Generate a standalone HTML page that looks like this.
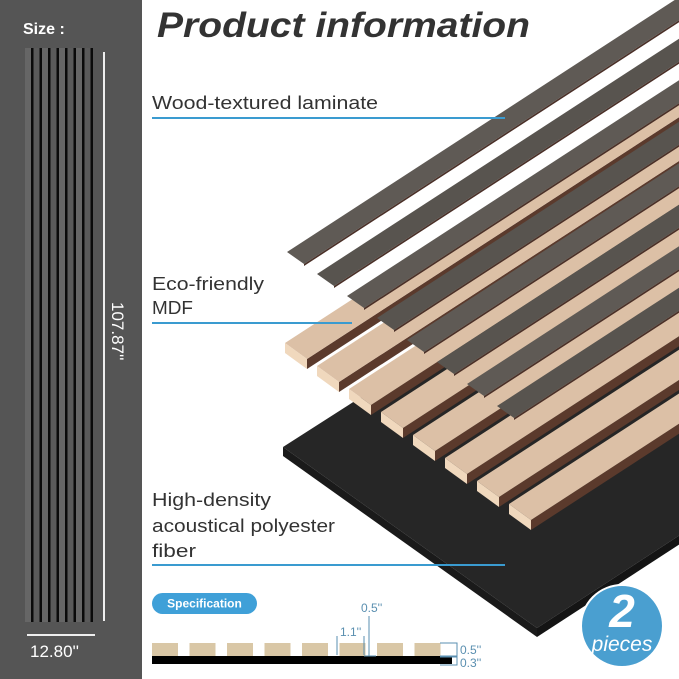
<!DOCTYPE html>
<html><head><meta charset="utf-8"><style>
html,body{margin:0;padding:0;background:#fff;}
svg{display:block}
text{font-family:"Liberation Sans","DejaVu Sans",sans-serif}
</style></head><body>
<svg id="s" width="679" height="679" viewBox="0 0 679 679" xmlns="http://www.w3.org/2000/svg">
<rect x="0" y="0" width="679" height="679" fill="#fff"/>
<rect x="0" y="0" width="142" height="679" fill="#555"/>
<text x="23" y="34" fill="#fff" font-size="16" font-weight="bold">Size :</text>
<defs>
<linearGradient id="gs" x1="0" x2="1" y1="0" y2="0">
<stop offset="0" stop-color="#6a6a6a"/><stop offset="1" stop-color="#3e3e3e"/>
</linearGradient>
</defs>
<g id="panel"></g>
<line x1="104" y1="52" x2="104" y2="621" stroke="#eee" stroke-width="2"/>
<line x1="27" y1="635" x2="95" y2="635" stroke="#eee" stroke-width="2"/>
<text x="30" y="657" fill="#fff" font-size="17">12.80''</text>
<text transform="translate(112,302) rotate(90)" fill="#fff" font-size="17">107.87''</text>

<g id="art"></g>

<text x="157" y="37" fill="#333" font-size="35" font-weight="bold" font-style="italic" textLength="373" lengthAdjust="spacingAndGlyphs">Product information</text>
<text x="152" y="109" fill="#333" font-size="18" textLength="226" lengthAdjust="spacingAndGlyphs">Wood-textured laminate</text>
<line x1="152" y1="118" x2="505" y2="118" stroke="#3a9bd0" stroke-width="2"/>
<text x="152" y="290" fill="#333" font-size="18" textLength="112" lengthAdjust="spacingAndGlyphs">Eco-friendly</text>
<text x="152" y="314" fill="#333" font-size="18" textLength="41" lengthAdjust="spacingAndGlyphs">MDF</text>
<line x1="152" y1="323" x2="352" y2="323" stroke="#3a9bd0" stroke-width="2"/>
<text x="152" y="506" fill="#333" font-size="18" textLength="119" lengthAdjust="spacingAndGlyphs">High-density</text>
<text x="152" y="532" fill="#333" font-size="18" textLength="183" lengthAdjust="spacingAndGlyphs">acoustical polyester</text>
<text x="152" y="557" fill="#333" font-size="18" textLength="44" lengthAdjust="spacingAndGlyphs">fiber</text>
<line x1="152" y1="565" x2="505" y2="565" stroke="#3a9bd0" stroke-width="2"/>

<rect x="152" y="593" width="105" height="21" rx="10.5" fill="#3fa0d8"/>
<text x="204.5" y="607.5" fill="#fff" font-size="12" font-weight="bold" text-anchor="middle">Specification</text>
<g id="spec"></g>
<rect x="152" y="656" width="300" height="8" fill="#000"/>
<line x1="337" y1="636" x2="337" y2="655" stroke="#5a8fb0" stroke-width="1"/>
<line x1="364" y1="636" x2="364" y2="655" stroke="#5a8fb0" stroke-width="1"/>
<line x1="369" y1="616" x2="369" y2="656" stroke="#5a8fb0" stroke-width="1"/>
<line x1="364" y1="656" x2="376" y2="656" stroke="#5a8fb0" stroke-width="1"/>
<text x="340" y="636" fill="#5a8fb0" font-size="12">1.1''</text>
<text x="361" y="612" fill="#5a8fb0" font-size="12">0.5''</text>
<polyline points="440,643 457,643 457,656 440,656" fill="none" stroke="#5a8fb0" stroke-width="1"/>
<polyline points="440,657 457,657 457,665 440,665" fill="none" stroke="#5a8fb0" stroke-width="1"/>
<text x="460" y="654" fill="#5a8fb0" font-size="12">0.5''</text>
<text x="460" y="667" fill="#5a8fb0" font-size="12">0.3''</text>

<circle cx="622" cy="626" r="41" fill="#4a9fd0" stroke="#fff" stroke-width="2"/>
<text x="622" y="627" fill="#fff" font-size="46" font-weight="bold" font-style="italic" text-anchor="middle">2</text>
<text x="622" y="651" fill="#fff" font-size="21" font-style="italic" text-anchor="middle">pieces</text>
</svg>
<script>
var NS="http://www.w3.org/2000/svg";
function el(p,t,a){var e=document.createElementNS(NS,t);for(var k in a)e.setAttribute(k,a[k]);p.appendChild(e);return e;}
function poly(p,pts,f){return el(p,"polygon",{points:pts.map(function(q){return q[0]+","+q[1];}).join(" "),fill:f});}
var panel=document.getElementById("panel");
el(panel,"rect",{x:25,y:48,width:68,height:574,fill:"url(#gs)"});
for(var i=0;i<8;i++){var x=25+8.5*i;el(panel,"rect",{x:x,y:48,width:6,height:574,fill:i%2?"#5a5a5a":"#666"});el(panel,"rect",{x:x+6,y:48,width:2.5,height:574,fill:"#0a0a0a"});}
var art=document.getElementById("art");
var L=620,dx=L,dy=-0.65*L;
function add(a,b){return [a[0]+b[0],a[1]+b[1]];}
// board
poly(art,[[283,447],[537,628],[700,522],[700,180]],"#262626");
poly(art,[[283,447],[537,628],[537,637],[283,456]],"#1a1a1a");
poly(art,[[537,628],[700,522],[700,531],[537,637]],"#141414");
// wood slats
for(var i=0;i<8;i++){
 var A=[285+32*i,343+23*i],B=add(A,[22,16]);
 var Af=add(A,[dx,dy]),Bf=add(B,[dx,dy]);
 poly(art,[B,Bf,add(Bf,[0,10]),add(B,[0,10])],"#5b3a2c");
 poly(art,[A,B,Bf,Af],"#dcc0a6");
 poly(art,[A,B,add(B,[0,10]),add(A,[0,10])],"#f0d8bd");
}
// laminate strips
for(var j=0;j<8;j++){
 var C=[287+30*j,252+22*j],D=add(C,[17,12]);
 var Cf=add(C,[dx,dy]),Df=add(D,[dx,dy]);
 poly(art,[D,Df,add(Df,[0,2]),add(D,[0,2])],"#4a3028");
 poly(art,[C,D,Df,Cf],j%2?"#58544f":"#5f5a55");
}
var spec=document.getElementById("spec");
for(var k=0;k<8;k++)el(spec,"rect",{x:152+37.5*k,y:643,width:26,height:13,fill:"#d9c7a6"});
</script>
</body></html>
